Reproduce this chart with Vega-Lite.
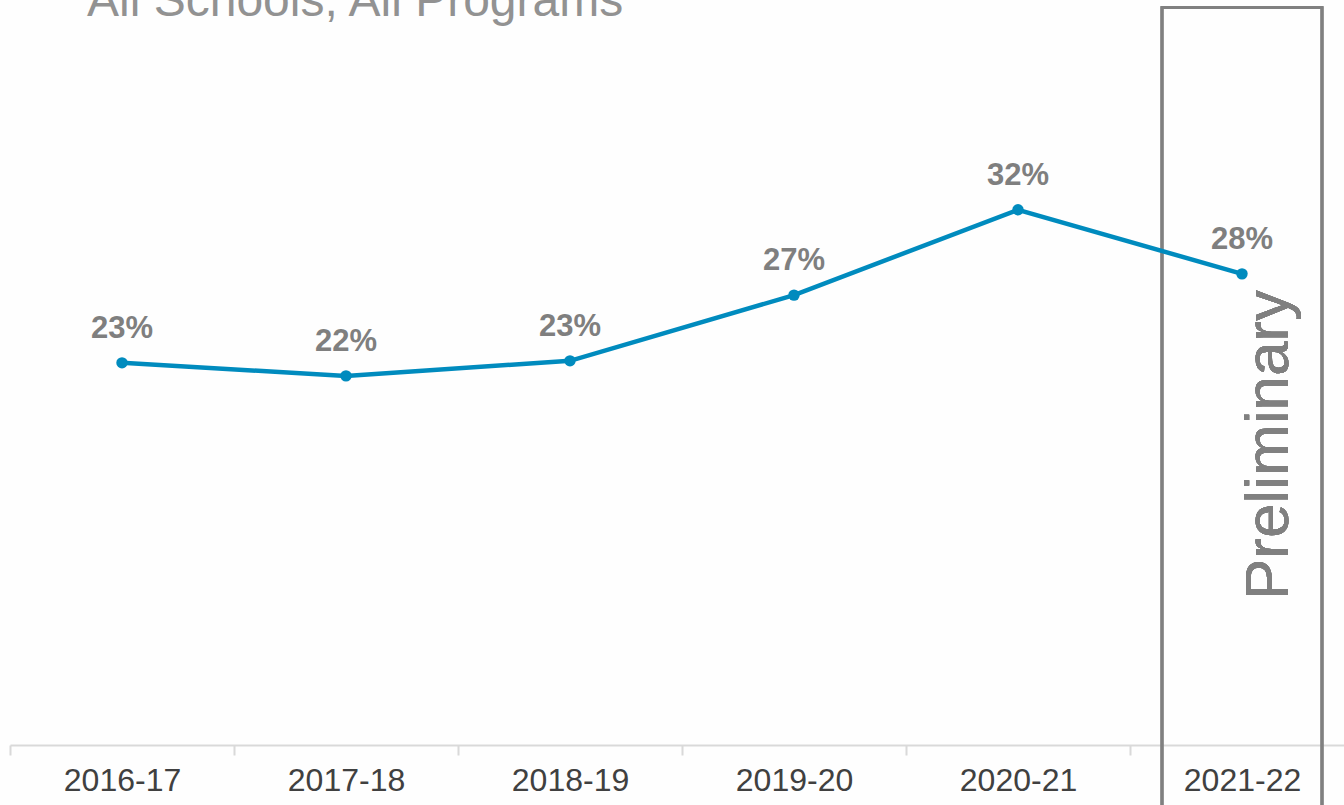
{
  "$schema": "https://vega.github.io/schema/vega-lite/v6.json",
  "width": 1334,
  "height": 669,
  "autosize": {"type": "none"},
  "padding": {"left": 10, "top": 76, "right": 0, "bottom": 60},
  "background": "#fefefe",
  "config": {"view": {"stroke": null}, "font": "Liberation Sans"},
  "title": {
    "text": "All Schools, All Programs",
    "fontSize": 48,
    "fontWeight": "normal",
    "color": "#929292",
    "font": "Liberation Sans",
    "anchor": "start",
    "frame": "group",
    "dx": 77,
    "offset": -20
  },
  "data": {
    "values": [
      {"year": "2016-17", "rate": 0.2285},
      {"year": "2017-18", "rate": 0.2207},
      {"year": "2018-19", "rate": 0.2297},
      {"year": "2019-20", "rate": 0.269},
      {"year": "2020-21", "rate": 0.32},
      {"year": "2021-22", "rate": 0.2817}
    ]
  },
  "encoding": {
    "x": {
      "field": "year",
      "type": "nominal",
      "sort": null,
      "title": null,
      "scale": {"type": "band", "domain": ["2016-17", "2017-18", "2018-19", "2019-20", "2020-21", "2021-22"], "range": [0, 1344], "paddingInner": 0, "paddingOuter": 0},
      "axis": {
        "labelAngle": 0,
        "labelFontSize": 32,
        "labelColor": "#404040",
        "labelFont": "Liberation Sans",
        "labelPadding": 10,
        "domainColor": "#d9d9d9",
        "domainWidth": 2,
        "tickColor": "#d9d9d9",
        "tickWidth": 2,
        "tickSize": 10,
        "tickBand": "extent",
        "grid": false
      }
    },
    "y": {
      "field": "rate",
      "type": "quantitative",
      "scale": {"domain": [0, 0.4], "nice": false, "zero": true},
      "axis": null
    }
  },
  "layer": [
    {
      "mark": {"type": "bar", "width": 160, "fill": "transparent", "stroke": "#808080", "strokeWidth": 2.5},
      "encoding": {
        "x": {"datum": "2021-22"},
        "y": {"datum": 0.441},
        "y2": {"datum": -0.05}
      }
    },
    {
      "mark": {"type": "text", "angle": 270, "align": "center", "baseline": "alphabetic", "dy": 46, "fontSize": 62, "color": "#808080", "font": "Liberation Sans"},
      "encoding": {
        "x": {"datum": "2021-22"},
        "y": {"datum": 0.1794},
        "text": {"value": "Preliminary"}
      }
    },
    {
      "mark": {"type": "line", "color": "#008bbe", "strokeWidth": 4.5}
    },
    {
      "mark": {"type": "point", "filled": true, "opacity": 1, "color": "#008bbe", "size": 130}
    },
    {
      "mark": {"type": "text", "baseline": "alphabetic", "align": "center", "dy": -25, "fontSize": 31, "fontWeight": "bold", "color": "#7f7f7f", "font": "Liberation Sans"},
      "encoding": {
        "text": {"field": "rate", "type": "quantitative", "format": ".0%"}
      }
    }
  ]
}
